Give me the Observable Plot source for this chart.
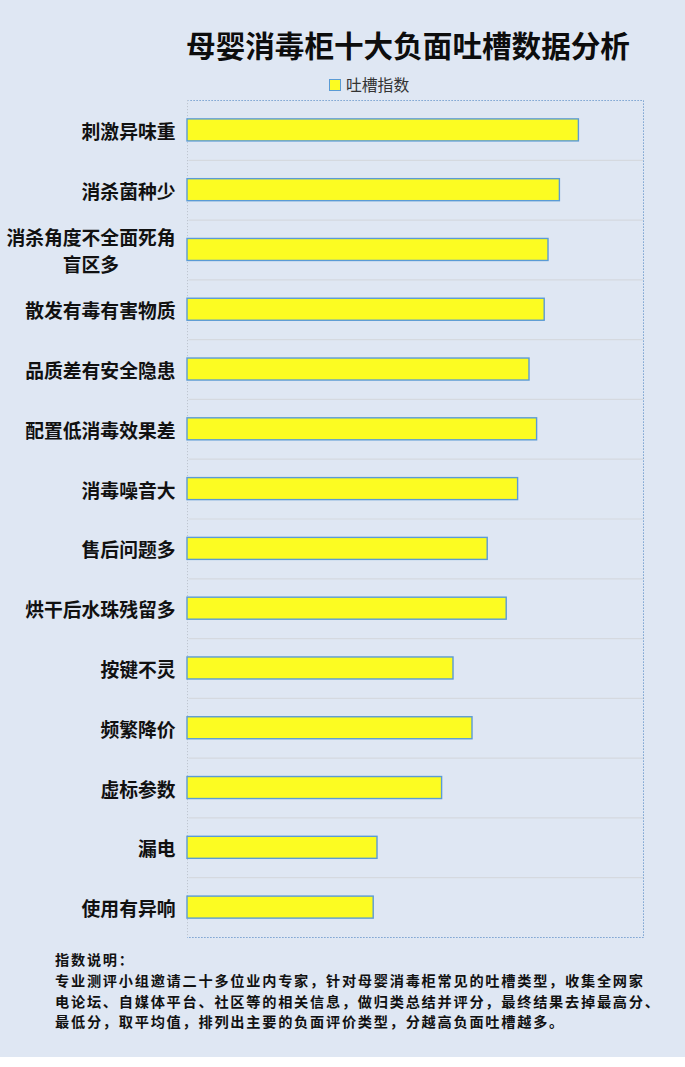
<!DOCTYPE html>
<html>
<head>
<meta charset="utf-8">
<script src="https://cdn.jsdelivr.net/npm/d3@7"></script>
<script src="https://cdn.jsdelivr.net/npm/@observablehq/plot@0.6"></script>
<style>
  html, body { margin: 0; padding: 0; background: #ffffff; }
  #wrap { width: 685px; height: 1057px; background: #dfe7f3; overflow: hidden; font-family: "Noto Sans CJK SC", "Noto Sans", sans-serif; }
  #title { margin-left: 131px; width: 554px; text-align: center; padding-top: 27px; height: 36px; line-height: 36px; font-size: 29.6px; font-weight: 700; color: #0d0d0d; white-space: nowrap; }
  #legend { height: 35px; padding-top: 8px; box-sizing: border-box; padding-left: 329px; line-height: 20px; font-size: 15.8px; color: #333; display: flex; align-items: center; }
  #legend .sw { width: 10px; height: 10px; background: #fcfc22; border: 1px solid #5b9bd5; margin-right: 5px; }
  #chart svg { display: block; }
  #notes { margin-top: 9px; padding-left: 55px; font-size: 14.2px; letter-spacing: 1.75px; line-height: 20.8px; font-weight: 700; color: #111; white-space: nowrap; }
</style>
</head>
<body>
<div id="wrap">
  <div id="title">母婴消毒柜十大负面吐槽数据分析</div>
  <div id="legend"><span class="sw"></span><span id="legendText"></span></div>
  <div id="chart"></div>
  <div id="notes"></div>
</div>
<script>
const seriesName = "吐槽指数";
const categories = [
  "刺激异味重",
  "消杀菌种少",
  "消杀角度不全面死角\n盲区多\u3000\u3000\u3000",
  "散发有毒有害物质",
  "品质差有安全隐患",
  "配置低消毒效果差",
  "消毒噪音大",
  "售后问题多",
  "烘干后水珠残留多",
  "按键不灵",
  "频繁降价",
  "虚标参数",
  "漏电",
  "使用有异响"
];
const values = [10.3, 9.8, 9.5, 9.4, 9.0, 9.2, 8.7, 7.9, 8.4, 7.0, 7.5, 6.7, 5.0, 4.9];
const xMax = 12;
const noteLines = [
  "指数说明：",
  "专业测评小组邀请二十多位业内专家，针对母婴消毒柜常见的吐槽类型，收集全网家",
  "电论坛、自媒体平台、社区等的相关信息，做归类总结并评分，最终结果去掉最高分、",
  "最低分，取平均值，排列出主要的负面评价类型，分越高负面吐槽越多。"
];

const data = categories.map((c, i) => ({name: c, value: values[i]}));

const W = 685, H = 842, mT = 2, mB = 3, mL = 187, mR = 42;
const step = (H - mT - mB) / categories.length;

document.getElementById("legendText").textContent = seriesName;
document.getElementById("notes").innerHTML = noteLines.map(s => `<div>${s}</div>`).join("");

const chart = Plot.plot({
  width: W,
  height: H,
  marginTop: mT,
  marginBottom: mB,
  marginLeft: mL,
  marginRight: mR,
  style: {background: "transparent", overflow: "visible"},
  x: {domain: [0, xMax], axis: null},
  y: {domain: categories, axis: null, paddingInner: 0.632, paddingOuter: 0.316, round: false},
  marks: [
    Plot.ruleY(categories.slice(1), {y: d => d, dy: -step / 2, stroke: "#d5d9df", strokeWidth: 1.2}),
    Plot.frame({stroke: "#5d8ec6", strokeDasharray: "1.2,1.8", strokeWidth: 1}),
    Plot.ruleX([0], {stroke: "#dfe7f3", strokeWidth: 2}),
    Plot.ruleX([0], {stroke: "#bfc6d0", strokeDasharray: "1.2,1.8", strokeWidth: 1}),
    Plot.barX(data, {x: "value", y: "name", fill: "#fcfc22", stroke: "#5b9bd5", strokeWidth: 1.4}),
    Plot.text(data, {
      y: "name", text: "name", frameAnchor: "left", textAnchor: "end", dx: -12,
      fontSize: 18.8, fontWeight: 700, fill: "#111", lineHeight: 1.42,
      fontFamily: "Noto Sans CJK SC"
    })
  ]
});
document.getElementById("chart").appendChild(chart);
</script>
</body>
</html>
